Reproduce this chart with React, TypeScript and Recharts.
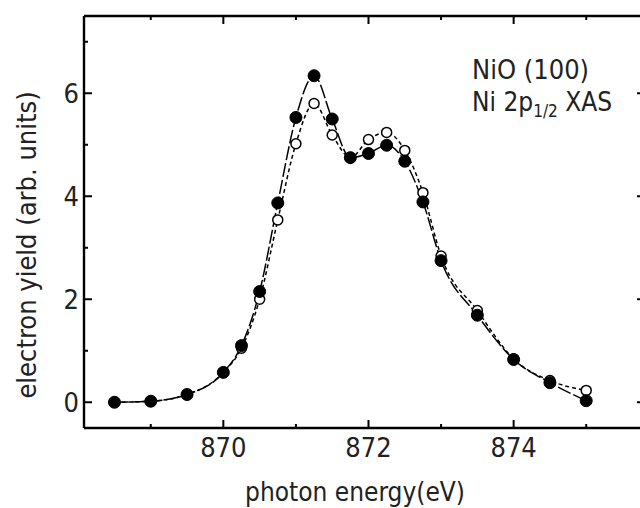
import React from 'react';
import { LineChart, Line, XAxis, YAxis } from 'recharts';

const energy = [868.5, 869, 869.5, 870, 870.25, 870.5, 870.75, 871, 871.25, 871.5, 871.75, 872, 872.25, 872.5, 872.75, 873, 873.5, 874, 874.5, 875];
const filledYield = [0, 0.02, 0.15, 0.58, 1.1, 2.15, 3.87, 5.53, 6.34, 5.5, 4.75, 4.83, 4.99, 4.68, 3.89, 2.75, 1.69, 0.83, 0.38, 0.03];
const openYield = [0, 0.02, 0.15, 0.58, 1.05, 2.0, 3.54, 5.02, 5.8, 5.19, 4.75, 5.1, 5.24, 4.89, 4.07, 2.84, 1.78, 0.84, 0.42, 0.23];

const xTicks = [869, 870, 871, 872, 873, 874, 875];
const xMajorTicks = [870, 872, 874];
const yTicks = [0, 1, 2, 3, 4, 5, 6, 7];
const yMajorTicks = [0, 2, 4, 6];

const xLabel = 'photon energy(eV)';
const yLabel = 'electron yield (arb. units)';

const FONT = "'Liberation Sans Narrow', 'DejaVu Sans Condensed', 'Liberation Sans', sans-serif";

const data = energy.map((e, i) => ({ energy: e, filled: filledYield[i], open: openYield[i] }));

const MAJOR = 8;
const MINOR = 4;

type Side = 'left' | 'right' | 'top' | 'bottom';

function makeTick(side: Side, showLabel: boolean) {
  return (props: any) => {
    const { x, y, payload } = props;
    const v = payload.value;
    const isY = side === 'left' || side === 'right';
    const major = isY ? yMajorTicks.includes(v) : xMajorTicks.includes(v);
    const len = major ? MAJOR : MINOR;
    let line;
    let label = null;
    if (side === 'left') {
      line = <line x1={x} y1={y} x2={x + len} y2={y} stroke="#000" strokeWidth={2} />;
      if (showLabel && major)
        label = (
          <text x={x - 5} y={y + 10} textAnchor="end" fontFamily={FONT} fontSize={27} fill="#222">
            {v}
          </text>
        );
    } else if (side === 'right') {
      line = <line x1={x} y1={y} x2={x - len} y2={y} stroke="#000" strokeWidth={2} />;
    } else if (side === 'top') {
      line = <line x1={x} y1={y} x2={x} y2={y + len} stroke="#000" strokeWidth={2} />;
    } else {
      line = <line x1={x} y1={y} x2={x} y2={y - len} stroke="#000" strokeWidth={2} />;
      if (showLabel && major)
        label = (
          <text x={x} y={y + 29} textAnchor="middle" fontFamily={FONT} fontSize={27} fill="#222">
            {v}
          </text>
        );
    }
    return (
      <g>
        {line}
        {label}
      </g>
    );
  };
}

const FilledDot = (props: any) => {
  const { cx, cy } = props;
  if (cx == null || cy == null) return null;
  return <circle cx={cx} cy={cy} r={6} fill="#000" stroke="#000" strokeWidth={1} />;
};

const OpenDot = (props: any) => {
  const { cx, cy } = props;
  if (cx == null || cy == null) return null;
  return <circle cx={cx} cy={cy} r={5} fill="#fff" stroke="#000" strokeWidth={1.5} />;
};

const axisLine = { stroke: '#000', strokeWidth: 2.4 };
const X_DOMAIN: [number, number] = [868.08, 875.81];
const Y_DOMAIN: [number, number] = [-0.5, 7.5];

export default function App() {
  return (
    <div style={{ position: 'absolute', left: 0, top: 0, width: 640, height: 508, overflow: 'hidden', background: '#fff' }}>
      <LineChart width={648} height={508} data={data} margin={{ top: 0, right: 0, bottom: 0, left: 0 }}>
        <XAxis
          xAxisId="bottom"
          orientation="bottom"
          dataKey="energy"
          type="number"
          domain={X_DOMAIN}
          allowDataOverflow
          ticks={xTicks}
          interval={0}
          height={80}
          tickSize={0}
          tickMargin={0}
          tickLine={false}
          axisLine={axisLine}
          tick={makeTick('bottom', true)}
        />
        <XAxis
          xAxisId="top"
          orientation="top"
          dataKey="energy"
          type="number"
          domain={X_DOMAIN}
          allowDataOverflow
          ticks={xTicks}
          interval={0}
          height={16}
          tickSize={0}
          tickMargin={0}
          tickLine={false}
          axisLine={axisLine}
          tick={makeTick('top', false)}
        />
        <YAxis
          yAxisId="left"
          orientation="left"
          type="number"
          domain={Y_DOMAIN}
          allowDataOverflow
          ticks={yTicks}
          interval={0}
          width={84}
          tickSize={0}
          tickMargin={0}
          tickLine={false}
          axisLine={axisLine}
          tick={makeTick('left', true)}
        />
        <YAxis
          yAxisId="right"
          orientation="right"
          type="number"
          domain={Y_DOMAIN}
          allowDataOverflow
          ticks={yTicks}
          interval={0}
          width={3}
          tickSize={0}
          tickMargin={0}
          tickLine={false}
          axisLine={axisLine}
          tick={makeTick('right', false)}
        />
        <Line
          xAxisId="bottom"
          yAxisId="left"
          dataKey="open"
          type="monotone"
          stroke="#000"
          strokeWidth={1.5}
          strokeDasharray="4 3"
          dot={<OpenDot />}
          activeDot={false}
          isAnimationActive={false}
        />
        <Line
          xAxisId="bottom"
          yAxisId="left"
          dataKey="filled"
          type="monotone"
          stroke="#000"
          strokeWidth={1.5}
          strokeDasharray="14 3"
          dot={<FilledDot />}
          activeDot={false}
          isAnimationActive={false}
        />
      </LineChart>
      <svg width={640} height={508} style={{ position: 'absolute', left: 0, top: 0, pointerEvents: 'none' }}>
        <text
          x={0}
          y={0}
          transform="translate(36,245) rotate(-90)"
          textAnchor="middle"
          fontFamily={FONT}
          fontSize={27}
          fill="#222"
        >
          {yLabel}
        </text>
        <text x={355} y={501} textAnchor="middle" fontFamily={FONT} fontSize={26} fill="#222">
          {xLabel}
        </text>
        <text x={472} y={79} fontFamily={FONT} fontSize={27} fill="#222">
          NiO (100)
        </text>
        <text x={472} y={111} fontFamily={FONT} fontSize={26} fill="#222">
          Ni 2p
          <tspan fontSize={17} dy={6}>1/2</tspan>
          <tspan dy={-6}> XAS</tspan>
        </text>
      </svg>
    </div>
  );
}
